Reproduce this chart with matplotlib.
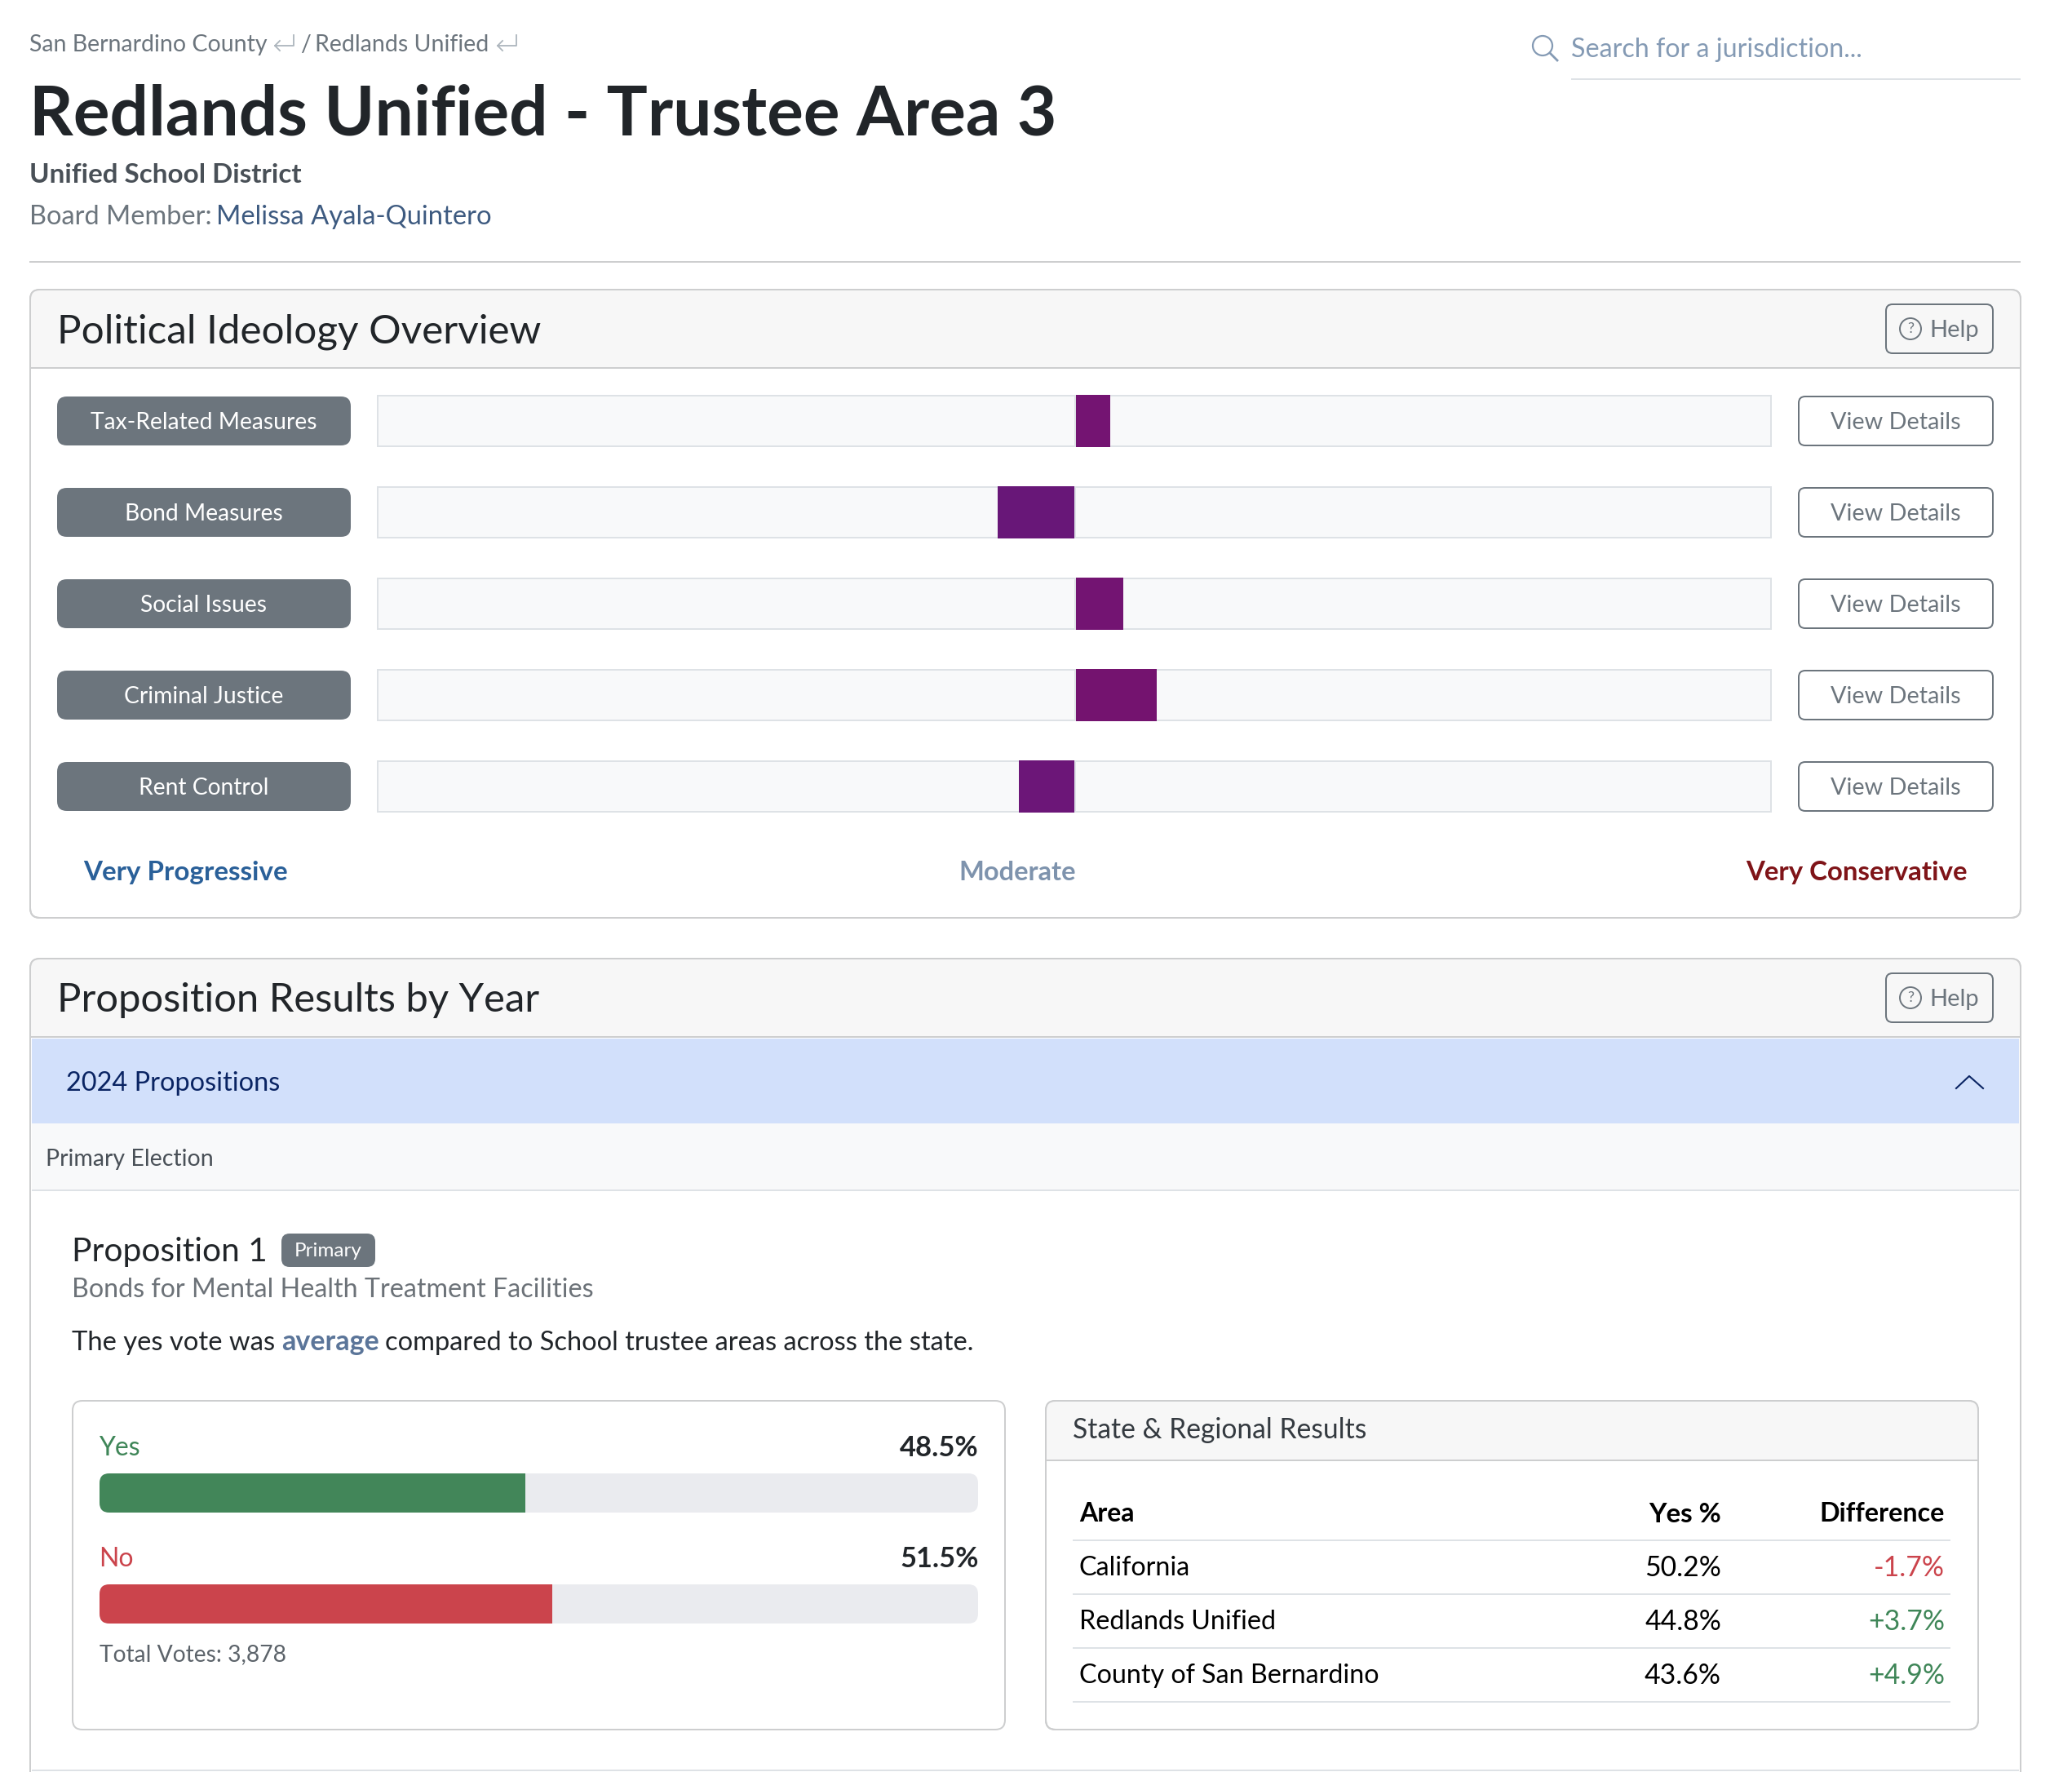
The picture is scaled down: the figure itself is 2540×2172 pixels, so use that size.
import matplotlib
matplotlib.use('Agg')
import matplotlib.pyplot as plt
from matplotlib.patches import FancyBboxPatch, Rectangle, Circle

plt.rcParams['font.family'] = ['Lato', 'DejaVu Sans']

W, H = 2540, 2172

# ideology chart
ideology_labels = ['Tax-Related Measures', 'Bond Measures', 'Social Issues', 'Criminal Justice', 'Rent Control']
ideology_scores = [5.0, -11.1, 6.9, 11.7, -8.1]   # percent of half width, - is progressive
ideology_colors = ['#741472', '#681778', '#731472', '#74136F', '#6C1678']
scale_labels = ['Very Progressive', 'Moderate', 'Very Conservative']

# proposition vote
vote_labels = ['Yes', 'No']
vote_pcts = [48.5, 51.5]
vote_colors = ['#428659', '#CB444C']
total_votes = '3,878'

# regional table
table_header = ['Area', 'Yes %', 'Difference']
table_areas = ['California', 'Redlands Unified', 'County of San Bernardino']
table_yes = ['50.2%', '44.8%', '43.6%']
table_diff = ['-1.7%', '+3.7%', '+4.9%']

GREY = '#6C757D'
DARK = '#212529'
BORDER = '#CDCECF'
LIGHT = '#DEE2E6'
HEADER_BG = '#F7F7F7'
GREEN = '#3F8658'
RED = '#CB444C'

fig = plt.figure(figsize=(W / 100, H / 100), dpi=100, facecolor='white')
ax = fig.add_axes([0, 0, 1, 1])
ax.set_xlim(0, W)
ax.set_ylim(H, 0)
ax.axis('off')


def txt(x, y, s, px, color=DARK, weight='normal', ha='left'):
    # y is the middle of the capitals, px the font size in pixels
    return ax.text(x, y + 0.355 * px, s, fontsize=px * 0.72, color=color, fontweight=weight,
                   ha=ha, va='baseline')


def box(x0, y0, x1, y1, r=8, fc='white', ec='none', lw=2, z=1):
    p = FancyBboxPatch((x0, y0), x1 - x0, y1 - y0, boxstyle='round,pad=0,rounding_size=%d' % r,
                       fc=fc, ec=ec, lw=lw * 0.72, zorder=z)
    ax.add_patch(p)
    return p


def line(xs, ys, color=LIGHT, lw=2, z=3):
    ax.plot(xs, ys, color=color, lw=lw * 0.72, zorder=z, solid_capstyle='butt')


def return_arrow(x, y):
    c = '#ADB5BD'
    ax.plot([x + 24, x + 24, x + 1], [y - 10, y + 3, y + 3], color=c, lw=1.3, zorder=3)
    ax.plot([x + 7, x + 1, x + 7], [y - 3, y + 3, y + 9], color=c, lw=1.3, zorder=3)


def help_button(y0):
    box(2312, y0, 2443, y0 + 60, r=8, fc='none', ec=GREY, z=3)
    ax.add_patch(Circle((2342, y0 + 30), 13, fc='none', ec=GREY, lw=1.4, zorder=3))
    ax.text(2342, y0 + 30, '?', fontsize=13, color=GREY, ha='center', va='center', zorder=4)
    txt(2365, y0 + 30, 'Help', 29, GREY)


def card(x0, y0, x1, y1, head_y):
    c = box(x0, y0, x1, y1, r=12, fc='white', ec=BORDER, z=1)
    head = Rectangle((x0, y0), x1 - x0, head_y - y0, fc=HEADER_BG, ec='none', zorder=1.5)
    ax.add_patch(head)
    head.set_clip_path(c)
    line([x0, x1], [head_y, head_y], BORDER, 2, 2)
    c2 = box(x0, y0, x1, y1, r=12, fc='none', ec=BORDER, z=2)
    return c2


# page header
txt(36, 53, 'San Bernardino County', 28.5, GREY)
return_arrow(336, 53)
txt(368, 53, '/', 28.5, GREY)
txt(386, 53, 'Redlands Unified', 28.5, GREY)
return_arrow(609, 53)
txt(36, 136, 'Redlands Unified - Trustee Area 3', 83.8, DARK, 'bold')
txt(36, 212, 'Unified School District', 33.2, '#495057', 'bold')
txt(36, 263, 'Board Member:', 32.5, GREY)
txt(265, 263, 'Melissa Ayala-Quintero', 32.8, '#3D5A80')
line([36, 2477], [321, 321], BORDER, 2)

# search box
SEARCH = '#849AB4'
ax.add_patch(Circle((1891, 56), 12, fc='none', ec=SEARCH, lw=1.6, zorder=3))
ax.plot([1900, 1909], [65, 74], color=SEARCH, lw=2, zorder=3)
txt(1926, 59, 'Search for a jurisdiction...', 32.3, SEARCH)
line([1926, 2477], [97, 97], LIGHT, 2)

# ideology card
card(37, 355, 2477, 1125, 451)
txt(70, 403, 'Political Ideology Overview', 49.4, DARK)
help_button(373)

track_x0, track_x1 = 462, 2172
track_y0, track_y1 = 484, 996
ideo_ax = fig.add_axes([track_x0 / W, 1 - track_y1 / H, (track_x1 - track_x0) / W, (track_y1 - track_y0) / H], zorder=3)
ideo_ax.patch.set_alpha(0)
ideo_ax.axis('off')
ideo_ax.set_xlim(-856 / 8.54, 100)
ideo_ax.set_ylim(4 + 32 / 112, -32 / 112)
rows = list(range(len(ideology_labels)))
ideo_ax.barh(rows, [200.0] * 5, left=-100.12, height=62 / 112, color='#F8F9FA', edgecolor=LIGHT, lw=1.44)
ideo_ax.barh(rows, ideology_scores, height=64 / 112, color=ideology_colors, zorder=3)
for i in rows:
    ideo_ax.plot([0, 0], [i - 32 / 112, i + 32 / 112], color=LIGHT, lw=1.44, zorder=4, solid_capstyle='butt')

for i, label in enumerate(ideology_labels):
    y0 = 486 + 112 * i
    box(70, y0, 430, y0 + 60, r=12, fc=GREY, z=3)
    txt(250, y0 + 30, label, 28.2, 'white', ha='center').set_zorder(4)
    box(2205, y0, 2443, y0 + 60, r=8, fc='white', ec=GREY, z=3)
    txt(2324, y0 + 30, 'View Details', 28.8, GREY, ha='center').set_zorder(4)

txt(102, 1067, scale_labels[0], 33.1, '#2A6099', 'bold')
txt(1247, 1067, scale_labels[1], 32.7, '#7E93AD', 'bold', ha='center')
txt(2412, 1067, scale_labels[2], 33, '#7F1418', 'bold', ha='right')

# proposition card, runs off the bottom of the page
card(37, 1175, 2477, 2260, 1271)
txt(70, 1223, 'Proposition Results by Year', 49, DARK)
help_button(1193)
ax.add_patch(Rectangle((39, 1273), 2436, 104, fc='#D2E0FB', ec='none', zorder=3))
txt(81, 1325, '2024 Propositions', 32.5, '#0A2463').set_zorder(4)
ax.plot([2398, 2414, 2431], [1334, 1319, 1334], color='#0A2463', lw=1.5, zorder=4)
ax.add_patch(Rectangle((39, 1377), 2436, 82, fc='#F8F9FA', ec='none', zorder=3))
line([39, 2475], [1459, 1459], LIGHT, 2)
txt(56, 1419, 'Primary Election', 28.5, '#495057').set_zorder(4)

txt(88, 1532, 'Proposition 1', 40.8, DARK)
box(345, 1512, 460, 1553, r=10, fc=GREY, z=3)
txt(402, 1531, 'Primary', 24.3, 'white', ha='center').set_zorder(4)
txt(88, 1579, 'Bonds for Mental Health Treatment Facilities', 32.3, '#6C7278')
txt(88, 1643, 'The yes vote was', 32.8, DARK)
txt(345, 1643, 'average', 34, '#5B7599', 'bold')
txt(472, 1643, 'compared to School trustee areas across the state.', 32.7, DARK)

# vote panel
box(89, 1717, 1232, 2120, r=12, fc='white', ec=BORDER, z=2)
bar_x0, bar_x1 = 122, 1199
bar_y0, bar_y1 = 1806, 1990
vote_ax = fig.add_axes([bar_x0 / W, 1 - bar_y1 / H, (bar_x1 - bar_x0) / W, (bar_y1 - bar_y0) / H], zorder=3)
vote_ax.patch.set_alpha(0)
vote_ax.axis('off')
vote_ax.set_xlim(0, 100)
vote_ax.set_ylim(1 + 24 / 136, -24 / 136)
for i, (name, pct, colour) in enumerate(zip(vote_labels, vote_pcts, vote_colors)):
    y0 = 1806 + 136 * i
    clip = box(bar_x0, y0, bar_x1, y0 + 48, r=12, fc='#EAEBEF', z=3)
    bar = vote_ax.barh(i, pct, height=48 / 136, color=colour)[0]
    bar.set_clip_path(clip)
    txt(bar_x0 - 1, y0 - 33, name, 32, GREEN if name == 'Yes' else RED)
    txt(bar_x1 + 1, y0 - 33, '%.1f%%' % pct, 34.5, DARK, 'bold', ha='right')
txt(122, 2026, 'Total Votes: ' + total_votes, 28.2, '#5C636A')

# regional results
card(1282, 1717, 2425, 2120, 1790)
txt(1315, 1751, 'State & Regional Results', 33.6, '#343A40')
txt(1323, 1854, table_header[0], 32, 'black', 'bold')
txt(2110, 1854, table_header[1], 33.2, 'black', 'bold', ha='right')
txt(2384, 1854, table_header[2], 32.3, 'black', 'bold', ha='right')
line([1315, 2391], [1888, 1888], LIGHT, 2)
for i in range(len(table_areas)):
    y = 1920 + 66 * i
    txt(1323, y, table_areas[i], 32.3, 'black')
    txt(2110, y, table_yes[i], 33.8, 'black', ha='right')
    txt(2384, y, table_diff[i], 33.8, RED if table_diff[i].startswith('-') else GREEN, ha='right')
    line([1315, 2391], [y + 34, y + 34], LIGHT, 2)

line([39, 2475], [2170, 2170], LIGHT, 2)

fig.savefig('out.png', dpi=100)
